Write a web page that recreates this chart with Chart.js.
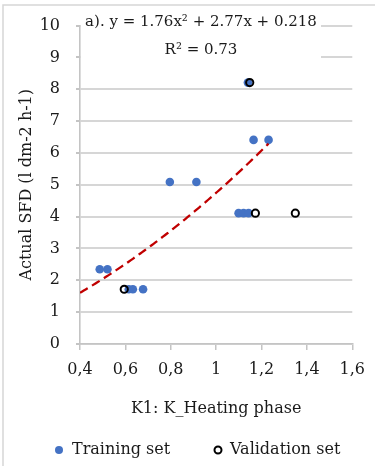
<!DOCTYPE html>
<html>
<head>
<meta charset="utf-8">
<script src="https://cdn.jsdelivr.net/npm/chart.js@4.4.1/dist/chart.umd.min.js"></script>
<style>
  html, body { margin: 0; padding: 0; background: #ffffff; }
  #wrap { width: 375px; height: 466px; position: relative; }
</style>
</head>
<body>
<div id="wrap"><canvas id="c"></canvas></div>
<script>
// K1 (heating phase) against measured SFD
const trainingK1  = [0.487, 0.521, 0.615, 0.633, 0.678, 0.796, 0.913, 1.099, 1.121, 1.143, 1.140, 1.165, 1.231];
const trainingSFD = [2.35, 2.35, 1.72, 1.72, 1.72, 5.09, 5.09, 4.11, 4.11, 4.11, 8.21, 6.41, 6.41];

const validationK1  = [0.595, 1.148, 1.173, 1.349];
const validationSFD = [1.72, 8.21, 4.11, 4.11];

// quadratic fit: y = a x^2 + b x + c
const fitCoef = [1.76, 2.77, 0.218];
const fitRange = [0.4, 1.231];

const xTicks = [0.4, 0.6, 0.8, 1.0, 1.2, 1.4, 1.6];
const yTicks = [0, 1, 2, 3, 4, 5, 6, 7, 8, 9, 10];

const fitLabel = ['a). y = 1.76x\u00B2 + 2.77x + 0.218', 'R\u00B2 = 0.73'];

const FONT = 'DejaVu Serif';
const TXT = '#1a1a1a';
const BLUE = '#4472c4';

const toPts = (xs, ys) => xs.map((x, i) => ({ x, y: ys[i] }));

const fitPts = [];
for (let i = 0; i <= 100; i++) {
  const x = fitRange[0] + (fitRange[1] - fitRange[0]) * i / 100;
  fitPts.push({ x, y: fitCoef[0] * x * x + fitCoef[1] * x + fitCoef[2] });
}

const fmtComma = v => String(Number(v.toFixed(1))).replace('.', ',');

// equation box, outer frame and legend
const decor = {
  id: 'decor',
  beforeDatasetsDraw(chart) {
    const ctx = chart.ctx;
    const a = chart.chartArea;
    ctx.save();
    ctx.fillStyle = '#ffffff';
    ctx.fillRect(a.left + 1, 8, 240, 54);
    ctx.fillStyle = TXT;
    ctx.font = '15px "' + FONT + '"';
    ctx.textAlign = 'center';
    ctx.textBaseline = 'middle';
    ctx.fillText(fitLabel[0], 201, 22);
    ctx.fillText(fitLabel[1], 201, 50);
    ctx.restore();
  },
  afterDraw(chart) {
    const ctx = chart.ctx;
    ctx.save();
    ctx.strokeStyle = '#d6d6d6';
    ctx.lineWidth = 1.5;
    ctx.beginPath();
    ctx.moveTo(3, 470);
    ctx.lineTo(3, 5);
    ctx.lineTo(380, 5);
    ctx.stroke();

    const ds = chart.data.datasets;
    const y = 450;
    ctx.font = '16px "' + FONT + '"';
    ctx.textBaseline = 'middle';
    ctx.textAlign = 'left';
    ctx.beginPath();
    ctx.arc(59, y, 4, 0, Math.PI * 2);
    ctx.fillStyle = ds[0].backgroundColor;
    ctx.fill();
    ctx.fillStyle = TXT;
    ctx.fillText(ds[0].label, 72, y);

    ctx.beginPath();
    ctx.arc(218, y, 3.5, 0, Math.PI * 2);
    ctx.fillStyle = '#ffffff';
    ctx.fill();
    ctx.lineWidth = 2;
    ctx.strokeStyle = ds[1].borderColor;
    ctx.stroke();
    ctx.fillStyle = TXT;
    ctx.fillText(ds[1].label, 230, y);
    ctx.restore();
  }
};

new Chart(document.getElementById('c'), {
  type: 'scatter',
  data: {
    datasets: [
      {
        label: 'Training set',
        data: toPts(trainingK1, trainingSFD),
        backgroundColor: BLUE,
        borderColor: BLUE,
        borderWidth: 0,
        pointRadius: 4.3,
        order: 3
      },
      {
        label: 'Validation set',
        data: toPts(validationK1, validationSFD),
        backgroundColor: 'rgba(255,255,255,0)',
        borderColor: '#000000',
        borderWidth: 2,
        pointRadius: 3.6,
        order: 2
      },
      {
        label: 'fit',
        type: 'line',
        data: fitPts,
        borderColor: '#c00000',
        borderWidth: 2.3,
        borderDash: [9, 5],
        pointRadius: 0,
        fill: false,
        order: 1
      }
    ]
  },
  options: {
    responsive: true,
    maintainAspectRatio: false,
    animation: false,
    layout: { padding: { left: 0, right: 22, top: 17.5, bottom: 0 } },
    plugins: {
      legend: { display: false },
      tooltip: { enabled: false }
    },
    scales: {
      x: {
        type: 'linear',
        min: 0.4,
        max: 1.6,
        afterBuildTicks: s => { s.ticks = xTicks.map(v => ({ value: v })); },
        afterFit: s => { s.height = 122; },
        ticks: {
          callback: v => fmtComma(v),
          color: TXT,
          font: { family: FONT, size: 16 },
          padding: 10,
          maxRotation: 0
        },
        grid: {
          drawOnChartArea: false,
          drawTicks: true,
          tickLength: 6,
          tickColor: '#c4c4c4',
          lineWidth: 1.5
        },
        border: { display: true, color: '#c4c4c4', width: 1.6 },
        title: {
          display: true,
          text: 'K1: K_Heating phase',
          color: TXT,
          font: { family: FONT, size: 16 },
          padding: { top: 0, bottom: 48 }
        }
      },
      y: {
        type: 'linear',
        min: 0,
        max: 10,
        afterBuildTicks: s => { s.ticks = yTicks.map(v => ({ value: v })); },
        afterFit: s => { s.width = 80; },
        ticks: {
          color: TXT,
          font: { family: FONT, size: 16 },
          padding: 16
        },
        grid: {
          drawOnChartArea: true,
          color: '#d6d6d6',
          lineWidth: 2,
          drawTicks: true,
          tickLength: 4,
          tickColor: '#c4c4c4'
        },
        border: { display: true, color: '#c4c4c4', width: 1.6 },
        title: {
          display: true,
          text: 'Actual SFD (l dm-2 h-1)',
          color: TXT,
          font: { family: FONT, size: 16 },
          padding: { top: 17, bottom: 0 }
        }
      }
    }
  },
  plugins: [decor]
});
</script>
</body>
</html>
